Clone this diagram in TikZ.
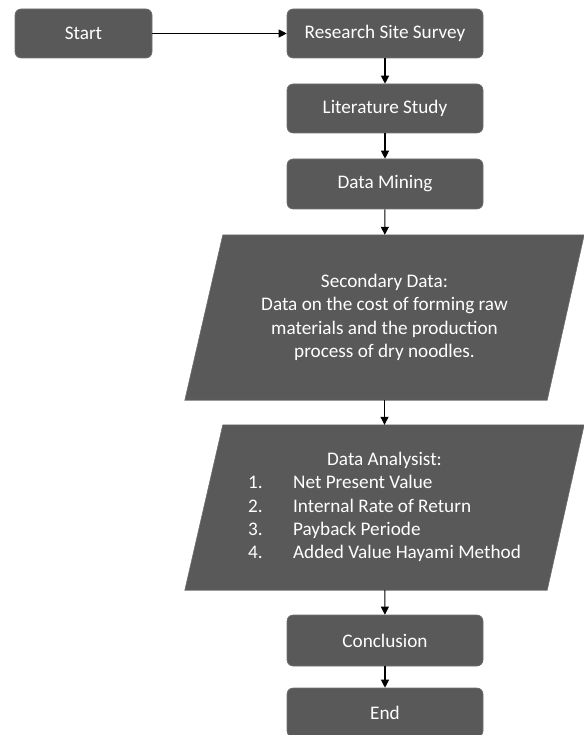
\documentclass[tikz,border=0pt]{standalone}
\usepackage{fontspec}
\setmainfont{Carlito}
\usetikzlibrary{arrows.meta,backgrounds}
\definecolor{boxgray}{HTML}{595959}
\definecolor{boxedge}{HTML}{707070}
\begin{document}
\begin{tikzpicture}[x=1pt,y=1pt,
  txt/.style={text=white,font=\fontsize{19.2}{23.4}\selectfont},
  box/.style={txt,fill=boxgray,draw=boxedge,line width=0.6pt,rounded corners=6pt,
    minimum height=49pt,minimum width=196pt,inner sep=0pt},
  para/.style={txt,inner sep=0pt,align=center,minimum width=399pt,minimum height=165pt},
  parafill/.style={fill=boxgray,draw=boxedge,line width=0.6pt},
  conn/.style={-{Triangle[length=8pt,width=8pt]},line width=1.1pt,black}]
\useasboundingbox (0,0) rectangle (583,-735);
\node[box,minimum width=137pt] (start) at (83.5,-33.5) {Start};
\node[box] (rss) at (385,-33.5) {Research Site Survey};
\node[box] (lit) at (385,-108.5) {Literature Study};
\node[box,minimum height=50pt] (dm) at (385,-184) {Data Mining};
\node[para] (p1) at (384.5,-317.5) {Secondary Data:\\Data on the cost of forming raw\\materials and the production\\process of dry noodles.};
\node[para] (p2) at (384.5,-507.5) {\begin{tabular}{@{}p{45pt}@{}l@{}}
\multicolumn{2}{c}{Data Analysist:}\\
1. & Net Present Value\\
2. & Internal Rate of Return\\
3. & Payback Periode\\
4. & Added Value Hayami Method
\end{tabular}};
\node[box,minimum height=51pt] (con) at (385,-640.5) {Conclusion};
\node[box] (end) at (385,-712.5) {End};
\begin{scope}[on background layer]
\draw[parafill] ([xshift=38pt]p1.north west) -- (p1.north east) -- ([xshift=-37pt]p1.south east) -- (p1.south west) -- cycle;
\draw[parafill] ([xshift=38pt]p2.north west) -- (p2.north east) -- ([xshift=-37pt]p2.south east) -- (p2.south west) -- cycle;
\end{scope}
\draw[conn] (start) -- (rss);
\draw[conn] (rss) -- (lit);
\draw[conn] (lit) -- (dm);
\draw[conn] (dm) -- (p1);
\draw[conn] (p1) -- (p2);
\draw[conn] (p2) -- (con);
\draw[conn] (con) -- (end);
\end{tikzpicture}
\end{document}
